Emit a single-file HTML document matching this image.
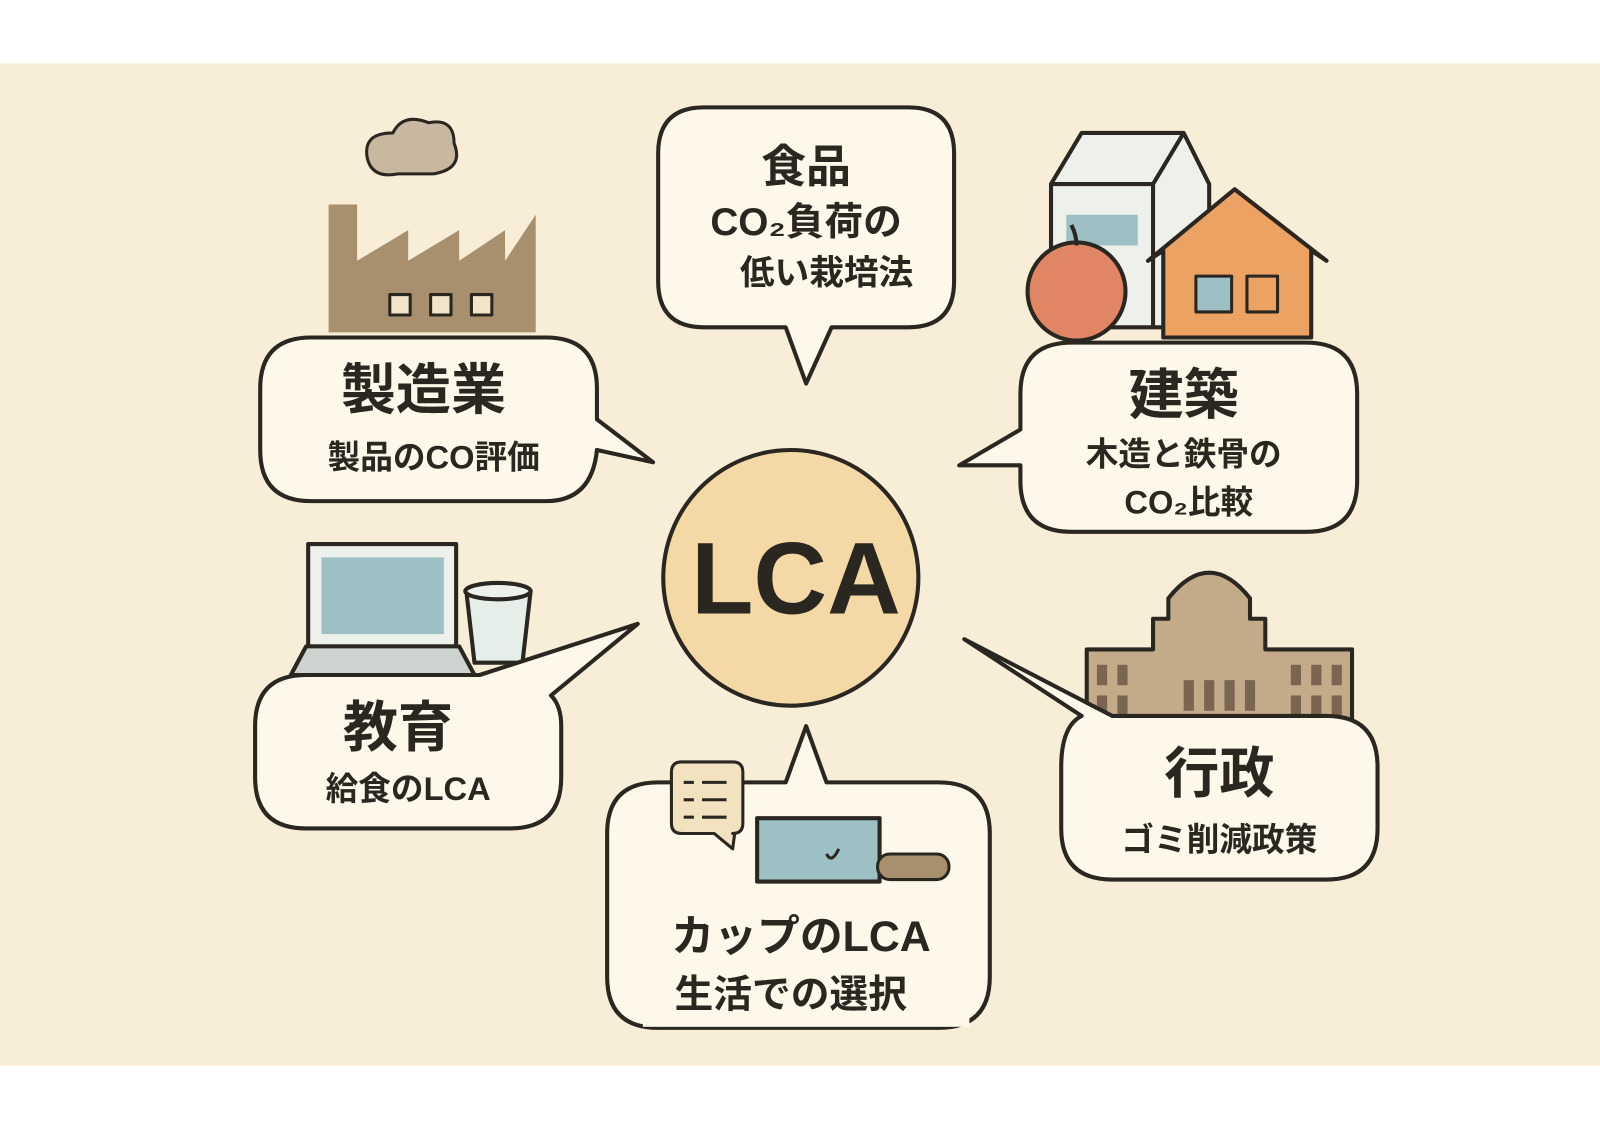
<!DOCTYPE html>
<html><head><meta charset="utf-8"><style>
html,body{margin:0;padding:0;background:#fff;}
svg{display:block;}
text{font-family:"Liberation Sans","Noto Sans CJK JP",sans-serif;font-weight:bold;fill:#2a2620;text-anchor:middle;}
</style></head><body>
<svg width="1600" height="1125" viewBox="0 0 1568 1100" preserveAspectRatio="none" xmlns="http://www.w3.org/2000/svg">
<rect x="0" y="0" width="1568" height="1100" fill="#fff"/>
<rect x="0" y="62" width="1568" height="980" fill="#f8eed7"/>
<g stroke="#2a2620" stroke-width="4" stroke-linejoin="round">
<!-- factory -->
<path d="M390 170 q-25 5 -30 -15 q-5 -25 25 -25 q10 -20 35 -10 q25 -5 25 20 q10 25 -20 30 z" fill="#c9b8a0" stroke-width="3"/>
<path d="M322 325 V200 H350 V255 L400 225 V255 L450 225 V255 L495 225 V255 L525 210 V325 Z" fill="#a8906f" stroke="none"/>
<g fill="#f1e4c8" stroke-width="3"><rect x="382" y="288" width="20" height="20"/><rect x="422" y="288" width="20" height="20"/><rect x="462" y="288" width="20" height="20"/></g>
<!-- milk carton -->
<path d="M1030 320 V180 L1060 130 H1160 L1185 180 V320 Z" fill="#eef0ec"/>
<path d="M1030 180 H1130 L1160 130 M1130 180 V320" fill="none"/>
<rect x="1045" y="210" width="70" height="30" fill="#9cc0c4" stroke="none"/>
<!-- house -->
<path d="M1140 330 V245 L1125 255 L1210 185 L1300 255 L1285 245 V330 Z" fill="#eba262"/>
<rect x="1172" y="270" width="35" height="35" fill="#9cc0c4" stroke-width="3"/>
<rect x="1222" y="270" width="30" height="35" fill="#eba262" stroke-width="3"/>
<!-- apple -->
<circle cx="1055" cy="285" r="48" fill="#e08664"/>
<path d="M1055 240 q0 -10 -5 -20" fill="none"/>
<!-- laptop -->
<rect x="302" y="532" width="145" height="100" fill="#eef0ec"/>
<rect x="315" y="545" width="120" height="75" fill="#9cc0c4" stroke="none"/>
<path d="M285 660 L300 632 H450 L465 660 Z" fill="#cfd3d0"/>
<!-- cup -->
<path d="M457 578 L465 648 H512 L520 578 Z" fill="#e6eeea"/>
<ellipse cx="488" cy="578" rx="32" ry="8" fill="#eef0ec"/>
<!-- government -->
<path d="M1065 705 V635 H1130 V605 H1145 V585 Q1185 535 1225 585 V605 H1240 V635 H1325 V705 Z" fill="#c3ab8a"/>
<g fill="#7a6650" stroke="none">
<rect x="1075" y="650" width="10" height="20"/><rect x="1095" y="650" width="10" height="20"/><rect x="1075" y="680" width="10" height="20"/><rect x="1095" y="680" width="10" height="20"/>
<rect x="1265" y="650" width="10" height="20"/><rect x="1285" y="650" width="10" height="20"/><rect x="1305" y="650" width="10" height="20"/><rect x="1265" y="680" width="10" height="20"/><rect x="1285" y="680" width="10" height="20"/><rect x="1305" y="680" width="10" height="20"/>
<rect x="1160" y="665" width="10" height="30"/><rect x="1180" y="665" width="10" height="30"/><rect x="1200" y="665" width="10" height="30"/><rect x="1220" y="665" width="10" height="30"/>
</g>
<!-- bubbles -->
<path d="M690 105 H890 Q935 105 935 150 V275 Q935 320 890 320 H815 L790 375 L770 320 H690 Q645 320 645 275 V150 Q645 105 690 105 Z" fill="#fdf8ea"/>
<path d="M305 330 H535 Q585 330 585 380 V410 L640 452 L585 440 Q580 490 535 490 H305 Q255 490 255 440 V380 Q255 330 305 330 Z" fill="#fdf8ea"/>
<path d="M1050 335 H1280 Q1330 335 1330 385 V470 Q1330 520 1280 520 H1050 Q1000 520 1000 470 V455 L940 455 L1000 420 V385 Q1000 335 1050 335 Z" fill="#fdf8ea"/>
<path d="M300 660 H470 L625 610 L540 680 Q550 690 550 710 V760 Q550 810 500 810 H300 Q250 810 250 760 V710 Q250 660 300 660 Z" fill="#fdf8ea"/>
<path d="M1090 700 L945 625 L1060 700 Q1040 710 1040 750 V810 Q1040 860 1090 860 H1300 Q1350 860 1350 810 V750 Q1350 700 1300 700 Z" fill="#fdf8ea"/>
<path d="M645 765 H770 L790 710 L810 765 H920 Q970 765 970 815 V955 Q970 1005 920 1005 H645 Q595 1005 595 955 V815 Q595 765 645 765 Z" fill="#fdf8ea"/>
<rect x="630" y="990" width="320" height="14" fill="#fdf8ea" stroke="none"/>
<!-- cup bubble icons -->
<path d="M668 745 H718 Q728 745 728 755 V805 Q728 815 718 815 H720 L718 830 L700 815 H668 Q658 815 658 805 V755 Q658 745 668 745 Z" fill="#f2e2c0" stroke-width="3"/>
<g stroke-width="3"><line x1="670" y1="765" x2="680" y2="765"/><line x1="688" y1="765" x2="712" y2="765"/><line x1="670" y1="782" x2="680" y2="782"/><line x1="688" y1="782" x2="712" y2="782"/><line x1="670" y1="799" x2="680" y2="799"/><line x1="688" y1="799" x2="712" y2="799"/></g>
<rect x="742" y="800" width="120" height="62" fill="#9cc0c4"/>
<path d="M810 835 q5 10 12 -5" fill="none" stroke-width="3"/>
<rect x="860" y="835" width="70" height="25" rx="12" fill="#a8906f" stroke-width="3"/>
<!-- center -->
<circle cx="775" cy="565" r="125" fill="#f4d9a6" stroke-width="4"/>
</g>
<text x="780" y="600" font-size="100">LCA</text>
<text x="790" y="178" font-size="44">食品</text>
<text x="790" y="230" font-size="38">CO₂負荷の</text>
<text x="810" y="278" font-size="34">低い栽培法</text>
<text x="415" y="400" font-size="54">製造業</text>
<text x="425" y="458" font-size="32">製品のCO評価</text>
<text x="1160" y="405" font-size="54">建築</text>
<text x="1160" y="455" font-size="32">木造と鉄骨の</text>
<text x="1165" y="502" font-size="32">CO₂比較</text>
<text x="390" y="730" font-size="54">教育</text>
<text x="400" y="782" font-size="32">給食のLCA</text>
<text x="1195" y="775" font-size="54">行政</text>
<text x="1195" y="832" font-size="32">ゴミ削減政策</text>
<text x="785" y="930" font-size="42">カップのLCA</text>
<text x="775" y="985" font-size="38">生活での選択</text>
</svg>
</body></html>
